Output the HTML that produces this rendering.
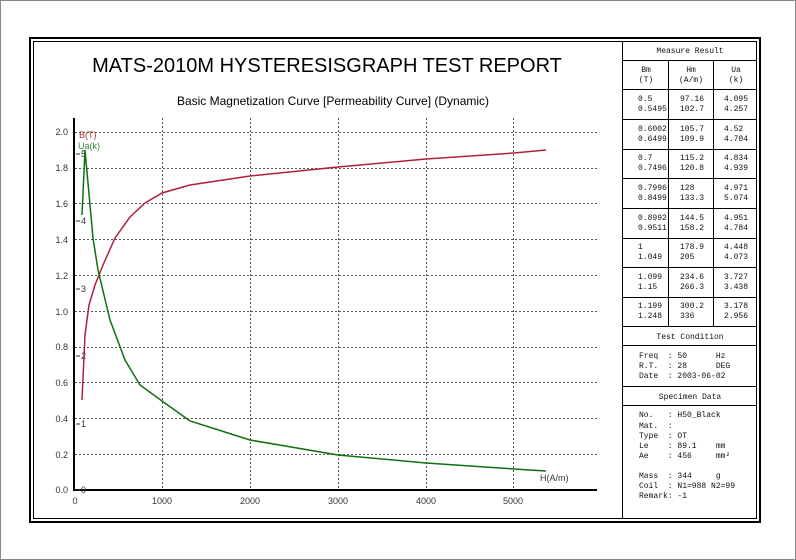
<!DOCTYPE html>
<html><head><meta charset="utf-8"><style>
body{margin:0;background:#fff;}
svg{display:block;}
</style></head><body>
<svg width="796" height="560" xmlns="http://www.w3.org/2000/svg" font-family="Liberation Sans, sans-serif">
<rect x="0.5" y="0.5" width="795" height="559" fill="#fff" stroke="#888"/>
<rect x="30" y="38" width="730" height="484" fill="none" stroke="#000" stroke-width="2"/>
<rect x="33.5" y="41.5" width="723" height="477" fill="none" stroke="#000" stroke-width="1"/>
<text x="327" y="72" font-size="20" text-anchor="middle">MATS-2010M HYSTERESISGRAPH TEST REPORT</text>
<text x="333" y="105" font-size="12" text-anchor="middle">Basic Magnetization Curve [Permeability Curve] (Dynamic)</text>
<g stroke="#555" stroke-dasharray="2,2" stroke-width="1">
<line x1="75" y1="132.5" x2="597" y2="132.5"/><line x1="75" y1="168.5" x2="597" y2="168.5"/>
<line x1="75" y1="203.5" x2="597" y2="203.5"/><line x1="75" y1="239.5" x2="597" y2="239.5"/>
<line x1="75" y1="275.5" x2="597" y2="275.5"/><line x1="75" y1="311.5" x2="597" y2="311.5"/>
<line x1="75" y1="347.5" x2="597" y2="347.5"/><line x1="75" y1="382.5" x2="597" y2="382.5"/>
<line x1="75" y1="418.5" x2="597" y2="418.5"/><line x1="75" y1="454.5" x2="597" y2="454.5"/>
<line x1="162.5" y1="118" x2="162.5" y2="490"/><line x1="250.5" y1="118" x2="250.5" y2="490"/>
<line x1="338.5" y1="118" x2="338.5" y2="490"/><line x1="426.5" y1="118" x2="426.5" y2="490"/>
<line x1="513.5" y1="118" x2="513.5" y2="490"/>
</g>
<line x1="74" y1="118" x2="74" y2="491" stroke="#000" stroke-width="2"/>
<line x1="73" y1="490" x2="597" y2="490" stroke="#000" stroke-width="2"/>
<g font-size="9" fill="#333" text-anchor="end">
<text x="68" y="135">2.0</text><text x="68" y="171">1.8</text><text x="68" y="207">1.6</text>
<text x="68" y="243">1.4</text><text x="68" y="279">1.2</text><text x="68" y="315">1.0</text>
<text x="68" y="350">0.8</text><text x="68" y="386">0.6</text><text x="68" y="422">0.4</text>
<text x="68" y="458">0.2</text><text x="68" y="493">0.0</text>
</g>
<g font-size="9" fill="#333">
<text x="81" y="157">5</text><text x="81" y="224">4</text><text x="81" y="292">3</text>
<text x="81" y="359">2</text><text x="81" y="427">1</text><text x="81" y="493">0</text>
<line x1="76" y1="154" x2="80" y2="154" stroke="#333"/><line x1="76" y1="221" x2="80" y2="221" stroke="#333"/>
<line x1="76" y1="289" x2="80" y2="289" stroke="#333"/><line x1="76" y1="356" x2="80" y2="356" stroke="#333"/>
<line x1="76" y1="424" x2="80" y2="424" stroke="#333"/><line x1="76" y1="490" x2="80" y2="490" stroke="#333"/>
</g>
<g font-size="9" fill="#333" text-anchor="middle">
<text x="75" y="504">0</text><text x="162" y="504">1000</text><text x="250" y="504">2000</text>
<text x="338" y="504">3000</text><text x="426" y="504">4000</text><text x="513" y="504">5000</text>
</g>
<text x="540" y="481" font-size="9" fill="#333">H(A/m)</text>
<text x="79" y="138" font-size="9" fill="#a33">B(T)</text>
<text x="78" y="149" font-size="9" fill="#383">Ua(k)</text>
<path d="M82,400 L85,335 L89,305 L95,285 L103,265 L115,238 L130,217 L145,203 L162,193 L190,185 L250,176 L338,167 L426,159 L514,153 L546,150" fill="none" stroke="#b0203a" stroke-width="1.5"/>
<path d="M82,215 L85,150 L93,238 L98,270 L110,320 L125,360 L140,385 L162,401 L190,421 L250,440 L338,455 L426,463 L514,469 L546,471" fill="none" stroke="#107010" stroke-width="1.5"/>
<line x1="622.5" y1="41" x2="622.5" y2="519" stroke="#000"/>
<g stroke="#000" stroke-width="1">
<line x1="623" y1="60.5" x2="757" y2="60.5"/>
<line x1="623" y1="89.5" x2="757" y2="89.5"/>
<line x1="623" y1="119.5" x2="757" y2="119.5"/>
<line x1="623" y1="149.5" x2="757" y2="149.5"/>
<line x1="623" y1="178.5" x2="757" y2="178.5"/>
<line x1="623" y1="208.5" x2="757" y2="208.5"/>
<line x1="623" y1="238.5" x2="757" y2="238.5"/>
<line x1="623" y1="267.5" x2="757" y2="267.5"/>
<line x1="623" y1="297.5" x2="757" y2="297.5"/>
<line x1="623" y1="326.5" x2="757" y2="326.5"/>
<line x1="623" y1="345.5" x2="757" y2="345.5"/>
<line x1="623" y1="386.5" x2="757" y2="386.5"/>
<line x1="623" y1="405.5" x2="757" y2="405.5"/>
<line x1="668.5" y1="60" x2="668.5" y2="326"/>
<line x1="713.5" y1="60" x2="713.5" y2="326"/>
</g>
<g font-family="Liberation Mono, monospace" font-size="8" fill="#111">
<text x="690" y="53" text-anchor="middle">Measure Result</text>
<g text-anchor="middle">
<text x="646" y="72">Bm</text><text x="646" y="82">(T)</text>
<text x="691" y="72">Hm</text><text x="691" y="82">(A/m)</text>
<text x="736" y="72">Ua</text><text x="736" y="82">(k)</text>
</g>
<g>
<text x="638" y="101">0.5</text><text x="638" y="111">0.5495</text>
<text x="680" y="101">97.16</text><text x="680" y="111">102.7</text>
<text x="724" y="101">4.095</text><text x="724" y="111">4.257</text>
<text x="638" y="131">0.6002</text><text x="638" y="141">0.6499</text>
<text x="680" y="131">105.7</text><text x="680" y="141">109.9</text>
<text x="724" y="131">4.52</text><text x="724" y="141">4.704</text>
<text x="638" y="160">0.7</text><text x="638" y="170">0.7496</text>
<text x="680" y="160">115.2</text><text x="680" y="170">120.8</text>
<text x="724" y="160">4.834</text><text x="724" y="170">4.939</text>
<text x="638" y="190">0.7996</text><text x="638" y="200">0.8499</text>
<text x="680" y="190">128</text><text x="680" y="200">133.3</text>
<text x="724" y="190">4.971</text><text x="724" y="200">5.074</text>
<text x="638" y="220">0.8992</text><text x="638" y="230">0.9511</text>
<text x="680" y="220">144.5</text><text x="680" y="230">158.2</text>
<text x="724" y="220">4.951</text><text x="724" y="230">4.784</text>
<text x="638" y="249">1</text><text x="638" y="259">1.049</text>
<text x="680" y="249">178.9</text><text x="680" y="259">205</text>
<text x="724" y="249">4.448</text><text x="724" y="259">4.073</text>
<text x="638" y="279">1.099</text><text x="638" y="289">1.15</text>
<text x="680" y="279">234.6</text><text x="680" y="289">266.3</text>
<text x="724" y="279">3.727</text><text x="724" y="289">3.438</text>
<text x="638" y="308">1.199</text><text x="638" y="318">1.248</text>
<text x="680" y="308">300.2</text><text x="680" y="318">336</text>
<text x="724" y="308">3.178</text><text x="724" y="318">2.956</text>
</g>
<text x="690" y="339" text-anchor="middle">Test Condition</text>
<text x="639" y="358" xml:space="preserve">Freq  : 50      Hz</text>
<text x="639" y="368" xml:space="preserve">R.T.  : 28      DEG</text>
<text x="639" y="378" xml:space="preserve">Date  : 2003-06-02</text>
<text x="690" y="399" text-anchor="middle">Specimen Data</text>
<text x="639" y="417" xml:space="preserve">No.   : H50_Black</text>
<text x="639" y="428" xml:space="preserve">Mat.  :</text>
<text x="639" y="438" xml:space="preserve">Type  : OT</text>
<text x="639" y="448" xml:space="preserve">Le    : 89.1    mm</text>
<text x="639" y="458" xml:space="preserve">Ae    : 456     mm²</text>
<text x="639" y="478" xml:space="preserve">Mass  : 344     g</text>
<text x="639" y="488" xml:space="preserve">Coil  : N1=988 N2=99</text>
<text x="639" y="498" xml:space="preserve">Remark: -1</text>
</g>
</svg>
</body></html>
